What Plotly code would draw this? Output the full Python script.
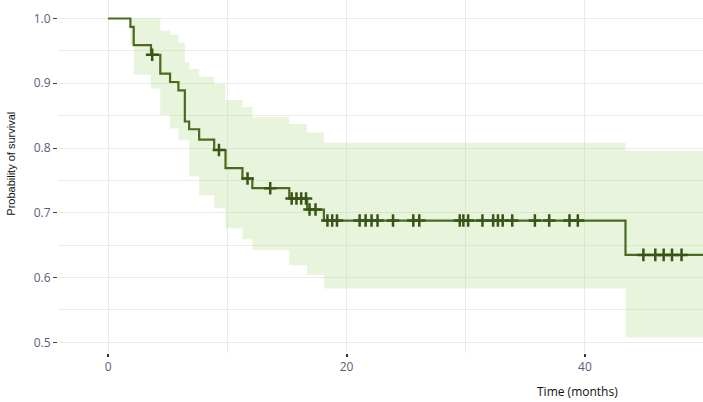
import plotly.graph_objects as go

# Kaplan-Meier estimate (time in months)
surv_time = [0, 1.87, 2.15, 3.6, 4.38, 5.2, 5.9, 6.44, 6.8, 7.64, 8.9, 9.85, 11.27, 12.1, 15.2, 16.7, 18.1, 43.4, 49.9]
surv_prob = [1.0, 0.987, 0.959, 0.944, 0.915, 0.902, 0.889, 0.841, 0.829, 0.813, 0.797, 0.769, 0.753, 0.738, 0.722, 0.705, 0.688, 0.635, 0.635]
upper_ci = [1.0, 1.0, 1.0, 1.0, 0.981, 0.975, 0.963, 0.933, 0.922, 0.910, 0.899, 0.874, 0.863, 0.848, 0.837, 0.824, 0.808, 0.796, 0.796]
lower_ci = [1.0, 0.959, 0.913, 0.892, 0.851, 0.830, 0.812, 0.812, 0.756, 0.727, 0.707, 0.676, 0.659, 0.643, 0.619, 0.604, 0.583, 0.508, 0.508]

# censored observations
censor_time = [3.7, 9.3, 11.7, 13.6, 15.4, 15.8, 16.2, 16.6, 16.9, 17.4, 18.4, 18.8, 19.2,
               21.1, 21.6, 22.1, 22.6, 23.9, 25.6, 26.1, 29.5, 29.8, 30.2, 31.4, 32.3, 32.7,
               33.1, 33.9, 35.8, 37.0, 38.7, 39.4, 44.9, 45.9, 46.6, 47.3, 48.1]

x_ticks = [0, 20, 40]
y_ticks = [0.5, 0.6, 0.7, 0.8, 0.9, 1.0]


def surv_at(t):
    s = surv_prob[0]
    for tt, p in zip(surv_time, surv_prob):
        if tt <= t:
            s = p
    return s


censor_prob = [surv_at(t) for t in censor_time]

line_col = '#4b6a20'
band_col = 'rgba(178,220,140,0.3)'

fig = go.Figure()
fig.add_trace(go.Scatter(x=surv_time, y=lower_ci, mode='lines', line=dict(width=0, shape='hv'),
                         hoverinfo='skip', showlegend=False))
fig.add_trace(go.Scatter(x=surv_time, y=upper_ci, mode='lines', line=dict(width=0, shape='hv'),
                         fill='tonexty', fillcolor=band_col, hoverinfo='skip', showlegend=False))
fig.add_trace(go.Scatter(x=surv_time, y=surv_prob, mode='lines',
                         line=dict(color=line_col, width=2.2, shape='hv'), showlegend=False))
fig.add_trace(go.Scatter(x=censor_time, y=censor_prob, mode='markers',
                         marker=dict(symbol='cross-thin', size=9, line=dict(color='#3a5416', width=2.5)),
                         showlegend=False))

grid = '#ebebeb'
fig.update_xaxes(range=[-4.2, 49.9], tickvals=x_ticks, showgrid=True, gridcolor=grid, gridwidth=1,
                 minor=dict(dtick=10, tick0=0, showgrid=True, gridcolor=grid, gridwidth=1),
                 zeroline=False, showline=False, ticks='outside', ticklen=3, tickwidth=2,
                 tickcolor='#333333', automargin=False,
                 tickfont=dict(family='Open Sans', size=12, color='#56607a'))
fig.update_yaxes(range=[0.4835, 1.0286], tickvals=y_ticks, tickformat='.1f', showgrid=True,
                 gridcolor=grid, gridwidth=1,
                 minor=dict(dtick=0.05, tick0=0.5, showgrid=True, gridcolor=grid, gridwidth=1),
                 zeroline=False, showline=False, ticks='outside', ticklen=4, tickwidth=1,
                 tickcolor='#444444', automargin=False,
                 tickfont=dict(family='Open Sans', size=12, color='#56607a'))

fig.add_annotation(text='Probability of survival', xref='paper', yref='paper', x=-0.072, y=0.535,
                   textangle=-90, showarrow=False, xanchor='center', yanchor='middle',
                   font=dict(family='Liberation Sans Narrow, Liberation Sans', size=11, color='#111111'))
fig.add_annotation(text='Time (months)', xref='paper', yref='paper', x=0.806, y=-0.11,
                   showarrow=False, xanchor='center', yanchor='middle',
                   font=dict(family='Open Sans', size=12, color='#111111'))

fig.update_layout(width=703, height=402, margin=dict(l=58, r=0, t=0, b=49),
                  plot_bgcolor='white', paper_bgcolor='white')

# drop the page's default body margin so the figure sits at the window's corner
fig.write_html("out.html", config={'displayModeBar': False},
               post_script="document.body.style.margin='0';")
